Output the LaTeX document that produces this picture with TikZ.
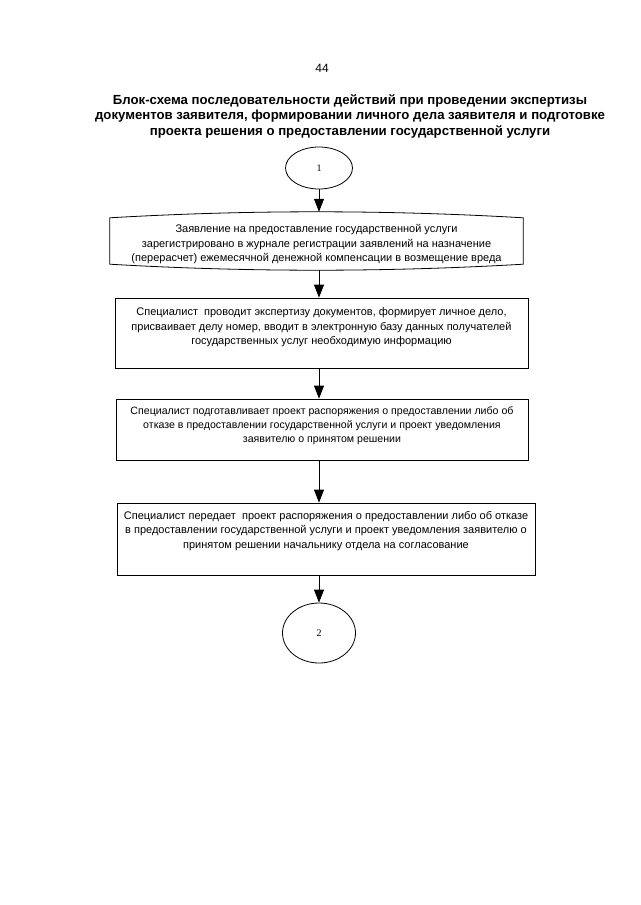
\documentclass[tikz,border=0pt]{standalone}
\usepackage{fontspec}
\setmainfont{Liberation Sans}
\newfontfamily\numfont{Liberation Serif}
\usetikzlibrary{shapes.geometric,arrows.meta,positioning,calc}

\tikzset{
  blk/.style={draw, line width=0.8pt, minimum width=#1},
  blktext/.style={align=center, inner sep=0pt,
                  font=\fontsize{11}{14.5}\selectfont},
  term/.style={draw, ellipse, line width=0.8pt, inner sep=0pt,
               font=\numfont\fontsize{10}{12}\selectfont},
  flow/.style={-{Triangle[width=10pt,length=13pt]}, line width=0.8pt}
}

\begin{document}
\begin{tikzpicture}[x=1pt,y=-1pt]
  \useasboundingbox (0,0) rectangle (640,905);
  % Header
  \node[font=\fontsize{12}{14}\selectfont] (page) at (322,68) {44};
  \node[align=center, font=\bfseries\fontsize{13.2}{15.5}\selectfont] (title) at (350,116)
       {Блок-схема последовательности действий при проведении экспертизы\\
        документов заявителя, формировании личного дела заявителя и подготовке\\
        проекта решения о предоставлении государственной услуги};
  % Start
  \node[term, minimum width=67pt, minimum height=42pt] (e1) at (319,168) {1};
  % Step 1 (bowed top and bottom)
  \node[minimum width=413pt, minimum height=58pt] (b1) at (316.5,241) {};
  \draw[line width=0.8pt] ([yshift=-6pt]b1.north west)
       .. controls ([yshift=2pt]$(b1.north west)!1/3!(b1.north east)$)
               and ([yshift=2pt]$(b1.north west)!2/3!(b1.north east)$) .. ([yshift=-6pt]b1.north east)
       -- ([yshift=6pt]b1.south east)
       .. controls ([yshift=-2pt]$(b1.south west)!2/3!(b1.south east)$)
               and ([yshift=-2pt]$(b1.south west)!1/3!(b1.south east)$) .. ([yshift=6pt]b1.south west)
       -- cycle;
  \node[blktext] (b1t) at (316.5,244.5)
       {Заявление на предоставление государственной услуги\\
        зарегистрировано в журнале регистрации заявлений на назначение\\
        (перерасчет) ежемесячной денежной компенсации в возмещение вреда};
  % Step 2
  \node[blk=413pt, minimum height=70pt] (b2) at (321.5,333) {};
  \node[blktext, anchor=north] (b2t) at ([yshift=-10pt]b2.north)
       {Специалист\ \ проводит экспертизу документов, формирует личное дело,\\
        присваивает делу номер, вводит в электронную базу данных получателей\\
        государственных услуг необходимую информацию};
  % Step 3
  \node[blk=412pt, minimum height=61pt] (b3) at (322,429.5) {};
  \node[blktext, anchor=north, font=\fontsize{10.6}{14.2}\selectfont] (b3t) at ([yshift=-7.5pt]b3.north)
       {Специалист подготавливает проект распоряжения о предоставлении либо об\\
        отказе в предоставлении государственной услуги и проект уведомления\\
        заявителю о принятом решении};
  % Step 4
  \node[blk=418pt, minimum height=72pt] (b4) at (326,539) {};
  \node[blktext, anchor=north] (b4t) at ([yshift=-8.5pt]b4.north)
       {Специалист передает\ \ проект распоряжения о предоставлении либо об отказе\\
        в предоставлении государственной услуги и проект уведомления заявителю о\\
        принятом решении начальнику отдела на согласование};
  % End
  \node[term, minimum width=73pt, minimum height=60pt] (e2) at (319,633) {2};

  \draw[flow] (e1) -- (e1 |- b1.north);
  \draw[flow] (b1.south -| e1) -- (b2.north -| e1);
  \draw[flow] (b2.south -| e1) -- (b3.north -| e1);
  \draw[flow] (b3.south -| e1) -- (b4.north -| e1);
  \draw[flow] (b4.south -| e1) -- (e2);
\end{tikzpicture}
\end{document}
